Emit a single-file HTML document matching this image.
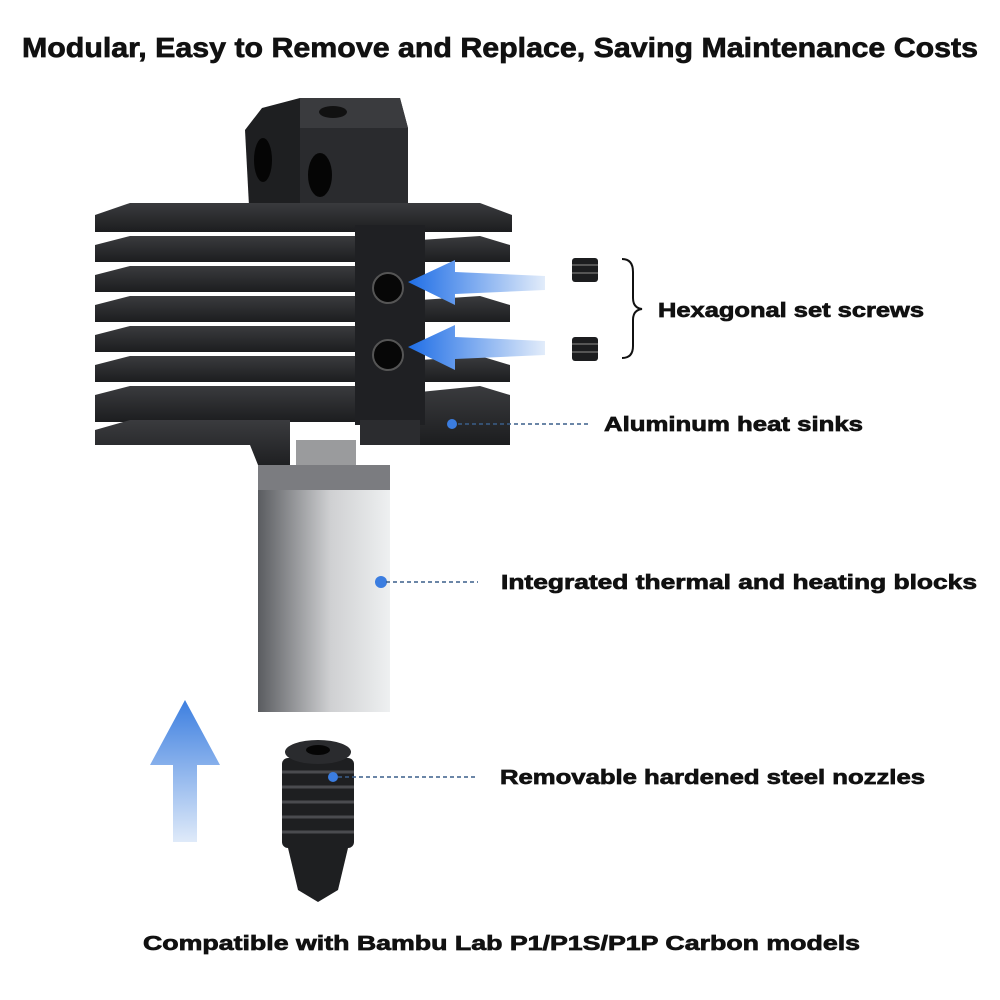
<!DOCTYPE html>
<html><head><meta charset="utf-8"><style>
html,body{margin:0;padding:0;background:#fff;}
svg{display:block;}
text{font-family:"Liberation Sans",Arial,sans-serif;font-weight:bold;fill:#111;stroke:#111;stroke-width:0.7;}
</style></head><body>
<svg width="1000" height="1000" viewBox="0 0 1000 1000" xmlns="http://www.w3.org/2000/svg">
<defs>
<linearGradient id="blk" x1="0" x2="1"><stop offset="0" stop-color="#5a5c60"/><stop offset="0.55" stop-color="#cfd0d2"/><stop offset="1" stop-color="#eef0f1"/></linearGradient>
<linearGradient id="fin" x1="0" y1="0" x2="0" y2="1"><stop offset="0" stop-color="#3a3b3e"/><stop offset="1" stop-color="#1c1d1f"/></linearGradient>
<linearGradient id="arrV" x1="0" y1="1" x2="0" y2="0"><stop offset="0" stop-color="#dfeaf9"/><stop offset="1" stop-color="#3d7fe0"/></linearGradient>
<linearGradient id="arrH" x1="1" y1="0" x2="0" y2="0"><stop offset="0" stop-color="#e2ecfa"/><stop offset="1" stop-color="#1f6ee6"/></linearGradient>
</defs>
<text x="22" y="57" font-size="28" textLength="956" lengthAdjust="spacingAndGlyphs">Modular, Easy to Remove and Replace, Saving Maintenance Costs</text>

<polygon points="262,108 300,98 400,98 408,128 408,225 250,225 245,130" fill="#1e1f21"/>
<polygon points="300,98 400,98 408,128 300,128" fill="#3a3b3e"/>
<rect x="300" y="128" width="108" height="98" fill="#2a2b2e"/>
<ellipse cx="263" cy="160" rx="9" ry="22" fill="#050505"/>
<ellipse cx="320" cy="175" rx="12" ry="22" fill="#050505"/>
<ellipse cx="333" cy="112" rx="14" ry="6" fill="#111"/>

<g fill="url(#fin)">
<polygon points="95,215 130,203 480,203 512,215 512,232 95,232"/>
<polygon points="95,245 130,236 360,236 360,262 95,262"/>
<polygon points="95,275 130,266 360,266 360,292 95,292"/>
<polygon points="95,305 130,296 360,296 360,322 95,322"/>
<polygon points="95,335 130,326 360,326 360,352 95,352"/>
<polygon points="95,365 130,356 360,356 360,382 95,382"/>
<polygon points="95,395 130,386 360,386 360,422 95,422"/>
<polygon points="95,430 130,420 290,420 290,470 260,470 250,445 95,445"/>
<polygon points="420,240 480,236 510,245 510,262 420,262"/>
<polygon points="420,300 480,296 510,305 510,322 420,322"/>
<polygon points="420,360 480,356 510,365 510,382 420,382"/>
<polygon points="420,392 480,386 510,395 510,445 420,445"/>
</g>
<rect x="355" y="225" width="70" height="200" fill="#1f2023"/>
<rect x="360" y="420" width="60" height="25" fill="#2b2c2f"/>
<circle cx="388" cy="288" r="15" fill="#070707" stroke="#555" stroke-width="2"/>
<circle cx="388" cy="355" r="15" fill="#070707" stroke="#555" stroke-width="2"/>

<rect x="296" y="440" width="60" height="30" fill="#9a9b9d"/>
<rect x="258" y="465" width="132" height="247" fill="url(#blk)"/>
<rect x="258" y="465" width="132" height="25" fill="#7b7c80"/>
<circle cx="381" cy="582" r="6" fill="#3b7de0"/>

<g fill="#1e1f21">
<rect x="282" y="758" width="72" height="90" rx="6"/>
<polygon points="288,848 348,848 338,890 318,902 298,890"/>
</g>
<ellipse cx="318" cy="752" rx="33" ry="12" fill="#2a2b2e"/>
<ellipse cx="318" cy="750" rx="12" ry="5" fill="#050505"/>
<g stroke="#4a4b4f" stroke-width="3">
<line x1="282" y1="772" x2="354" y2="772"/><line x1="282" y1="787" x2="354" y2="787"/>
<line x1="282" y1="802" x2="354" y2="802"/><line x1="282" y1="817" x2="354" y2="817"/>
<line x1="282" y1="832" x2="354" y2="832"/>
</g>
<circle cx="333" cy="777" r="5" fill="#3b7de0"/>

<polygon points="185,700 220,765 197,765 197,842 173,842 173,765 150,765" fill="url(#arrV)"/>
<polygon points="408,282 455,260 455,272 545,276 545,290 455,294 455,305" fill="url(#arrH)"/>
<polygon points="408,347 455,325 455,337 545,341 545,355 455,359 455,370" fill="url(#arrH)"/>

<rect x="572" y="258" width="26" height="24" rx="3" fill="#1c1d1f"/>
<rect x="572" y="337" width="26" height="24" rx="3" fill="#1c1d1f"/>
<g stroke="#555" stroke-width="2"><line x1="572" y1="265" x2="598" y2="265"/><line x1="572" y1="273" x2="598" y2="273"/><line x1="572" y1="344" x2="598" y2="344"/><line x1="572" y1="352" x2="598" y2="352"/></g>
<path d="M622,259 Q633,259 633,272 L633,298 Q633,308 642,309 Q633,310 633,320 L633,346 Q633,358 622,358" fill="none" stroke="#111" stroke-width="2"/>

<g stroke="#3a5f8a" stroke-width="1.5" stroke-dasharray="4,3">
<line x1="458" y1="424" x2="590" y2="424"/>
<line x1="386" y1="582" x2="478" y2="582"/>
<line x1="338" y1="777" x2="478" y2="777"/>
</g>
<circle cx="452" cy="424" r="5" fill="#3b7de0"/>

<text x="658" y="317" font-size="20" textLength="266" lengthAdjust="spacingAndGlyphs">Hexagonal set screws</text>
<text x="604" y="431" font-size="20" textLength="259" lengthAdjust="spacingAndGlyphs">Aluminum heat sinks</text>
<text x="501" y="589" font-size="20" textLength="476" lengthAdjust="spacingAndGlyphs">Integrated thermal and heating blocks</text>
<text x="500" y="784" font-size="20" textLength="425" lengthAdjust="spacingAndGlyphs">Removable hardened steel nozzles</text>
<text x="143" y="950" font-size="20" textLength="717" lengthAdjust="spacingAndGlyphs">Compatible with Bambu Lab P1/P1S/P1P Carbon models</text>
</svg>
</body></html>
